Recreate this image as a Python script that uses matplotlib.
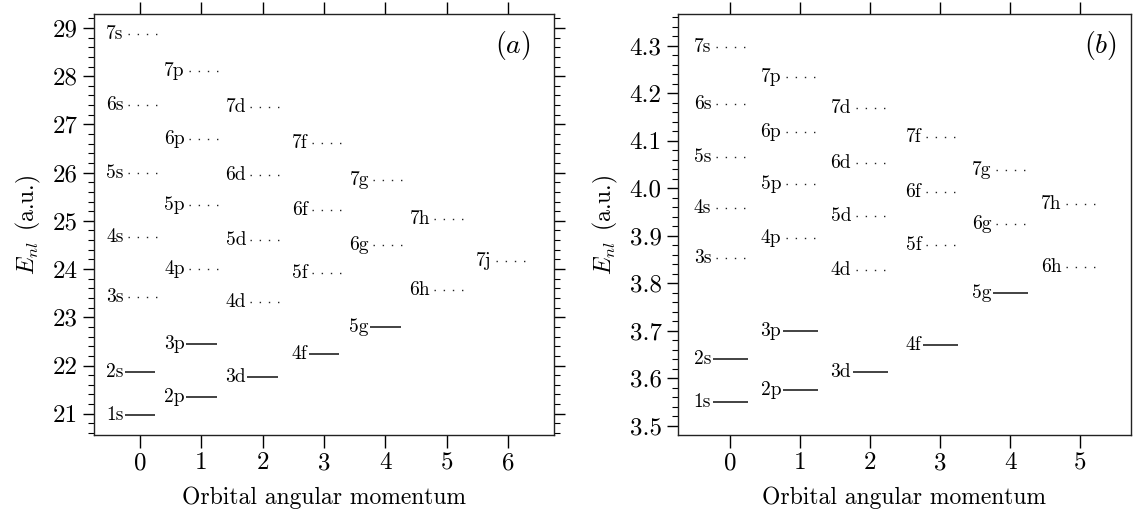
import matplotlib
matplotlib.use("Agg")
import matplotlib.pyplot as plt
from matplotlib.ticker import MultipleLocator

plt.rcParams['font.family'] = 'serif'
plt.rcParams['font.serif'] = ['cmr10', 'DejaVu Serif']
plt.rcParams['mathtext.fontset'] = 'cm'
plt.rcParams['axes.unicode_minus'] = False

# niveis do painel (a)
a_names = ["1s", "2s", "3s", "4s", "5s", "6s", "7s",
           "2p", "3p", "4p", "5p", "6p", "7p",
           "3d", "4d", "5d", "6d", "7d",
           "4f", "5f", "6f", "7f",
           "5g", "6g", "7g",
           "6h", "7h",
           "7j"]
a_l = [0, 0, 0, 0, 0, 0, 0,
       1, 1, 1, 1, 1, 1,
       2, 2, 2, 2, 2,
       3, 3, 3, 3,
       4, 4, 4,
       5, 5,
       6]
a_energy = [20.98, 21.86, 23.42, 24.67, 26.00, 27.40, 28.87,
            21.34, 22.45, 24.00, 25.32, 26.69, 28.11,
            21.77, 23.32, 24.61, 25.95, 27.36,
            22.24, 23.91, 25.22, 26.61,
            22.80, 24.49, 25.84,
            23.57, 25.03,
            24.16]

# niveis do painel (b)
b_names = ["1s", "2s", "3s", "4s", "5s", "6s", "7s",
           "2p", "3p", "4p", "5p", "6p", "7p",
           "3d", "4d", "5d", "6d", "7d",
           "4f", "5f", "6f", "7f",
           "5g", "6g", "7g",
           "6h", "7h"]
b_l = [0, 0, 0, 0, 0, 0, 0,
       1, 1, 1, 1, 1, 1,
       2, 2, 2, 2, 2,
       3, 3, 3, 3,
       4, 4, 4,
       5, 5]
b_energy = [3.551, 3.640, 3.854, 3.958, 4.065, 4.177, 4.298,
            3.575, 3.700, 3.896, 4.009, 4.119, 4.235,
            3.614, 3.829, 3.942, 4.054, 4.170,
            3.671, 3.881, 3.993, 4.108,
            3.779, 3.925, 4.039,
            3.835, 3.967]

# niveis desenhados com linha cheia
solid_levels = ["1s", "2s", "2p", "3p", "3d", "4f", "5g"]


def desenha_painel(ax, names, ls, energies):
    for name, l, e in zip(names, ls, energies):
        if name in solid_levels:
            ax.plot([l - 0.25, l + 0.25], [e, e], color='#222222', lw=1.2, solid_capstyle='butt')
        else:
            ax.plot([l - 0.2, l + 0.27], [e, e], color='#222222', lw=1.0,
                    linestyle=(0, (1, 5.6)))
        ax.text(l - 0.27, e, name, ha='right', va='center', fontsize=14)
    ax.set_xlabel('Orbital angular momentum', fontsize=17, labelpad=9)
    ax.set_ylabel(r'$E_{nl}\ \,$(a.u.)', fontsize=17, labelpad=7)
    ax.tick_params(axis='both', which='major', labelsize=18, direction='out')
    ax.tick_params(axis='x', which='major', length=9, top=True, width=1)
    ax.tick_params(axis='y', which='major', length=8, width=1)
    ax.tick_params(axis='y', which='minor', length=4, width=0.8)
    ax.tick_params(axis='x', which='minor', bottom=False, top=False)
    for s in ax.spines.values():
        s.set_linewidth(1.0)
        s.set_color('#222222')


fig = plt.figure(figsize=(11.33, 5.16), dpi=100)
ax1 = fig.add_axes([0.083, 0.157, 0.406, 0.816])
ax2 = fig.add_axes([0.598, 0.157, 0.400, 0.816])

desenha_painel(ax1, a_names, a_l, a_energy)
ax1.set_xlim(-0.75, 6.75)
ax1.set_ylim(20.56, 29.29)
ax1.xaxis.set_major_locator(MultipleLocator(1))
ax1.yaxis.set_major_locator(MultipleLocator(1))
ax1.yaxis.set_minor_locator(MultipleLocator(0.2))
ax1.tick_params(axis='y', which='both', right=True)
ax1.text(0.948, 0.926, r'$(a)$', transform=ax1.transAxes, ha='right', va='center', fontsize=20)

desenha_painel(ax2, b_names, b_l, b_energy)
ax2.set_xlim(-0.75, 5.72)
ax2.set_ylim(3.481, 4.367)
ax2.xaxis.set_major_locator(MultipleLocator(1))
ax2.yaxis.set_major_locator(MultipleLocator(0.1))
ax2.yaxis.set_minor_locator(MultipleLocator(0.02))
ax2.text(0.97, 0.926, r'$(b)$', transform=ax2.transAxes, ha='right', va='center', fontsize=20)

fig.savefig('out.png', dpi=100)
